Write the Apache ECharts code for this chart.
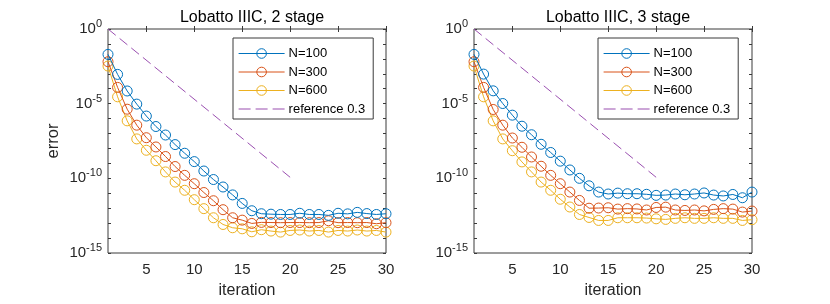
<!DOCTYPE html>
<html><head><meta charset="utf-8">
<script src="https://cdn.jsdelivr.net/npm/echarts@6/dist/echarts.min.js"></script>
<style>html,body{margin:0;padding:0;background:#fff}#c{width:830px;height:304px}</style>
</head><body><div id="c"></div>
<script>
// iterations
const iterations = [1,2,3,4,5,6,7,8,9,10,11,12,13,14,15,16,17,18,19,20,21,22,23,24,25,26,27,28,29,30];
// log10(error) values
// Left: Lobatto IIIC, 2 stage
const s2_N100 = [-1.70,-3.04,-4.15,-5.03,-5.83,-6.53,-7.10,-7.74,-8.32,-8.88,-9.51,-10.08,-10.58,-11.11,-11.68,-12.17,-12.37,-12.40,-12.42,-12.42,-12.34,-12.42,-12.42,-12.48,-12.34,-12.38,-12.28,-12.36,-12.42,-12.37];
const s2_N300 = [-2.19,-3.91,-5.37,-6.44,-7.28,-7.90,-8.54,-9.21,-9.80,-10.36,-10.95,-11.50,-12.10,-12.64,-12.80,-13.02,-12.95,-12.96,-12.97,-12.96,-12.96,-12.97,-12.96,-12.84,-12.97,-12.96,-12.97,-12.96,-13.04,-12.97];
const s2_N600 = [-2.48,-4.54,-6.15,-7.36,-8.12,-8.82,-9.57,-10.25,-10.80,-11.43,-12.03,-12.64,-13.09,-13.31,-13.38,-13.58,-13.44,-13.53,-13.60,-13.49,-13.46,-13.53,-13.49,-13.60,-13.49,-13.53,-13.46,-13.53,-13.49,-13.60];
// Right: Lobatto IIIC, 3 stage
const s3_N100 = [-1.70,-3.02,-4.14,-4.99,-5.77,-6.51,-7.08,-7.72,-8.27,-8.85,-9.44,-10.00,-10.50,-10.92,-11.05,-10.99,-11.03,-11.03,-11.07,-11.14,-11.12,-11.05,-11.10,-11.05,-10.98,-11.12,-11.18,-11.08,-11.30,-10.92];
const s3_N300 = [-2.19,-3.91,-5.39,-6.44,-7.30,-7.92,-8.57,-9.19,-9.80,-10.36,-10.92,-11.48,-12.00,-11.99,-11.97,-12.06,-12.03,-12.05,-12.12,-11.95,-11.93,-12.12,-12.15,-12.12,-12.18,-12.08,-12.03,-12.06,-12.26,-12.19];
const s3_N600 = [-2.48,-4.54,-6.15,-7.36,-8.15,-8.90,-9.57,-10.25,-10.80,-11.40,-11.92,-12.42,-12.62,-12.82,-12.82,-12.64,-12.64,-12.64,-12.66,-12.71,-12.75,-12.68,-12.64,-12.68,-12.68,-12.64,-12.68,-12.68,-12.82,-12.77];
// reference 0.3 line (endpoints)
const refX = [1, 20];
const refY = [0, -9.93];
// tick labels
const xTicks = [5,10,15,20,25,30];
const yLabelExps = [-15,-10,-5,0];
const titles = ['Lobatto IIIC, 2 stage', 'Lobatto IIIC, 3 stage'];
const names = ['N=100','N=300','N=600','reference 0.3'];

const colors = ['#0072BD','#D95319','#EDB120','#9a4fb0'];
const FONT = 'Liberation Sans, Arial, Helvetica, sans-serif';
const AX = '#3a3a3a';
const grids = [{left:108, top:29, width:278, height:224}, {left:474, top:29, width:278, height:224}];

const chart = echarts.init(document.getElementById('c'), null, {renderer:'canvas'});
const xAxis = [], yAxis = [], series = [], legend = [], title = [];
function pairs(xs, ys){ return xs.map((x,i)=>[x, ys[i]]); }
grids.forEach((g, gi) => {
  g.show = true; g.borderColor = AX; g.borderWidth = 1; g.backgroundColor = '#fff';
  const tickIn = {show:true, inside:true, length:3, lineStyle:{color:AX, width:1}};
  xAxis.push({type:'value', gridIndex:gi, min:1, max:30, position:'bottom',
    axisLine:{show:false}, splitLine:{show:false},
    axisTick:Object.assign({customValues:xTicks}, tickIn),
    axisLabel:{customValues:xTicks, color:'#262626', fontSize:15, fontFamily:FONT, margin:9},
    name:'iteration', nameLocation:'middle', nameGap:30, nameTextStyle:{color:'#262626', fontSize:16, fontFamily:FONT}});
  xAxis.push({type:'value', gridIndex:gi, min:1, max:30, position:'top',
    axisLine:{show:false}, splitLine:{show:false},
    axisTick:Object.assign({customValues:xTicks}, tickIn), axisLabel:{show:false}});
  yAxis.push({type:'value', gridIndex:gi, min:-15, max:0, interval:1, position:'left',
    axisLine:{show:false}, splitLine:{show:false}, axisTick:tickIn,
    axisLabel:{customValues:yLabelExps, margin:6, fontFamily:FONT, color:'#262626',
      formatter: v => '{b|10}{s|' + v + '}',
      rich:{b:{fontSize:15, fontFamily:FONT, color:'#262626'}, s:{fontSize:11, fontFamily:FONT, color:'#262626', padding:[0,0,10,0]}}},
    name: gi===0 ? 'error' : '', nameLocation:'middle', nameGap:46, nameRotate:90,
    nameTextStyle:{color:'#262626', fontSize:16.5, fontFamily:FONT}});
  yAxis.push({type:'value', gridIndex:gi, min:-15, max:0, interval:1, position:'right',
    axisLine:{show:false}, splitLine:{show:false}, axisTick:tickIn, axisLabel:{show:false}});
  const sets = gi===0 ? [s2_N100, s2_N300, s2_N600] : [s3_N100, s3_N300, s3_N600];
  sets.forEach((arr, k) => {
    series.push({type:'line', name:names[k], xAxisIndex:gi*2, yAxisIndex:gi*2, data:pairs(iterations, arr),
      symbol:'circle', symbolSize:10, showAllSymbol:true, animation:false, z:3+ (2-k),
      lineStyle:{color:colors[k], width:1},
      itemStyle:{color:'rgba(255,255,255,0)', borderColor:colors[k], borderWidth:1}});
  });
  series.push({type:'line', name:names[3], xAxisIndex:gi*2, yAxisIndex:gi*2, data:pairs(refX, refY),
    symbol:'none', animation:false, lineStyle:{color:colors[3], width:1, type:[10,5]}, itemStyle:{color:colors[3]}});
  title.push({text:titles[gi], left:g.left + g.width/2, textAlign:'center', top:5,
    textStyle:{fontSize:16, fontWeight:'normal', color:'#000', fontFamily:FONT}});
  legend.push({show:true, orient:'vertical', left: gi===0 ? 233 : 598, top:38,
    padding:[8.5,8,3,5], itemWidth:46, itemHeight:12, itemGap:4.5,
    borderColor:AX, borderWidth:1, backgroundColor:'#fff',
    lineStyle:{width:1}, itemStyle:{borderWidth:1},
    textStyle:{fontSize:13, lineHeight:14, fontFamily:FONT, color:'#000', padding:[0,0,0,-1]},
    data:[{name:names[0]},{name:names[1]},{name:names[2]},{name:names[3], itemStyle:{opacity:0}, lineStyle:{type:[12,5], width:1.2}}]});
});
chart.setOption({animation:false, grid:grids, xAxis, yAxis, series, legend, title});
</script></body></html>
